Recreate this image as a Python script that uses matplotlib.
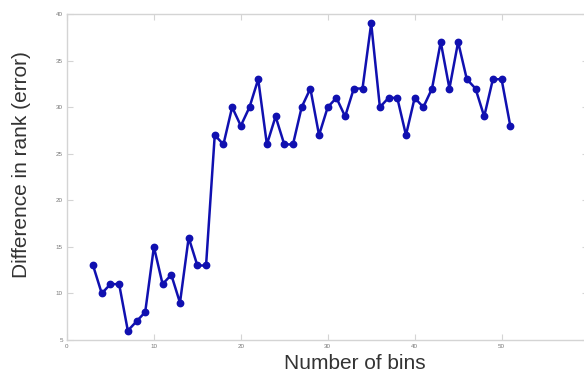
import matplotlib
matplotlib.use("Agg")
import matplotlib.pyplot as plt

# Rank error versus number of histogram bins
bins = list(range(3, 52))
rank_error = [13, 10, 11, 11, 6, 7, 8, 15, 11, 12, 9, 16, 13, 13,
              27, 26, 30, 28, 30, 33, 26, 29, 26, 26, 30, 32, 27, 30,
              31, 29, 32, 32, 39, 30, 31, 31, 27, 31, 30, 32, 37, 32,
              37, 33, 32, 29, 33, 33, 28]

x_ticks = [0, 10, 20, 30, 40, 50, 60]
y_ticks = [5, 10, 15, 20, 25, 30, 35, 40]

plt.rcParams['font.family'] = ['Liberation Sans', 'DejaVu Sans']

fig = plt.figure(figsize=(5.84, 3.79), dpi=100)
ax = fig.add_axes([0.1147, 0.1029, 0.8930, 0.8601])

line_color = '#1010b0'
ax.plot(bins, rank_error, color=line_color, linewidth=1.8,
        marker='o', markersize=4.6, markerfacecolor=line_color,
        markeredgecolor=line_color)

ax.set_xlim(0, 60)
ax.set_ylim(5, 40)
ax.set_xticks(x_ticks)
ax.set_yticks(y_ticks)

axis_gray = '#d4d4d4'
for s in ax.spines.values():
    s.set_color(axis_gray)
    s.set_linewidth(1.0)

ax.tick_params(direction='in', length=4, width=0.8, color=axis_gray,
               labelsize=4.5, labelcolor='#777777',
               top=True, right=True, pad=3)

# the 50 tick is drawn darker
t50 = ax.xaxis.get_major_ticks()[5]
t50.tick1line.set_color('#222222')
t50.tick2line.set_color('#222222')

fig.text(0.607, 0.042, 'Number of bins', fontsize=15, color='#333333',
         ha='center', va='center')
fig.text(0.037, 0.567, 'Difference in rank (error)', fontsize=15,
         color='#333333', ha='center', va='center', rotation=90)

fig.savefig('out.png', dpi=100)
